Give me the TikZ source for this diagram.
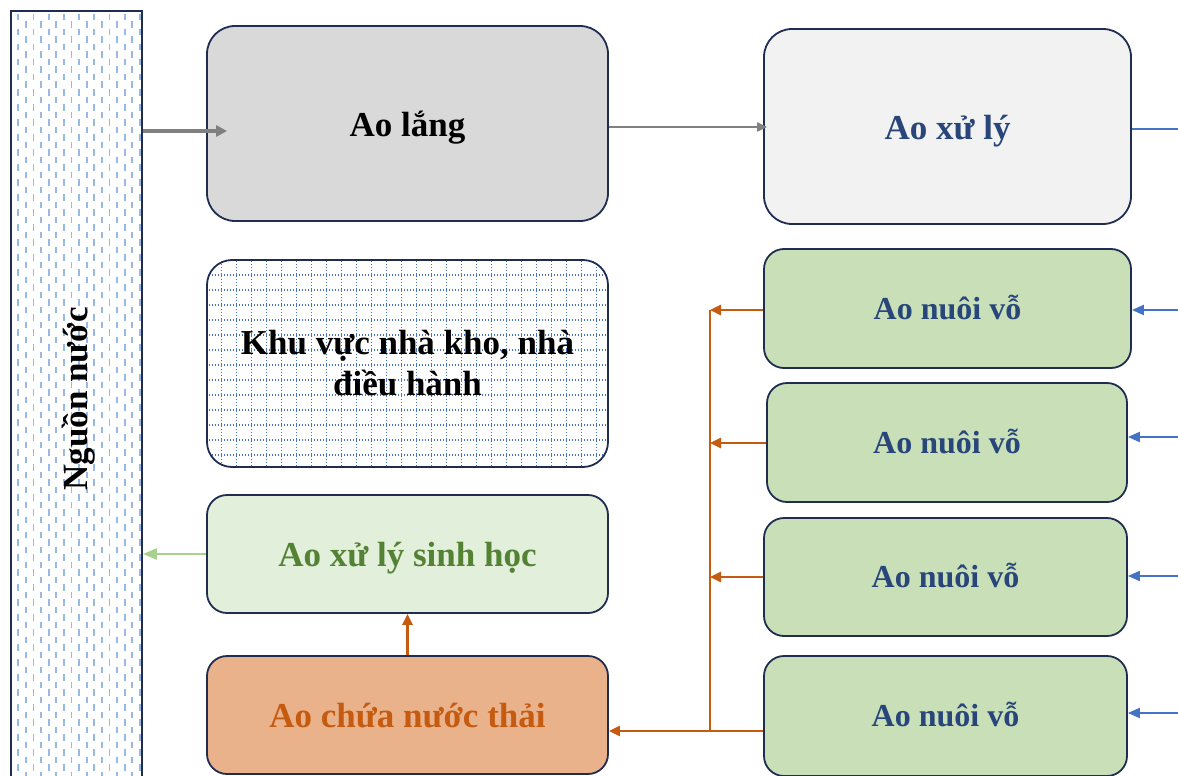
\documentclass[tikz,border=0pt]{standalone}
\usepackage{fontspec}
\setmainfont{Liberation Serif}
\usetikzlibrary{arrows.meta}
\definecolor{navy}{RGB}{32,45,80}
\definecolor{lgray}{RGB}{217,217,217}
\definecolor{vlgray}{RGB}{242,242,242}
\definecolor{dblue}{RGB}{40,70,122}
\definecolor{lgreen}{RGB}{226,239,218}
\definecolor{mgreen}{RGB}{201,223,184}
\definecolor{tgreen}{RGB}{84,130,53}
\definecolor{peach}{RGB}{233,178,138}
\definecolor{orng}{RGB}{197,90,17}
\definecolor{arblue}{RGB}{68,114,196}
\definecolor{argreen}{RGB}{169,209,142}
\definecolor{argray}{RGB}{128,128,128}
\definecolor{dashblue}{RGB}{150,186,228}
\begin{document}
\begin{tikzpicture}[x=1pt,y=-1pt,
  pond/.style={draw=navy, line width=1.8pt, rounded corners=28pt, align=center,
    font=\fontsize{35}{41}\selectfont\bfseries, inner sep=0pt},
  oneline/.style={text height=26pt, text depth=1pt},
  vo/.style={pond, fill=mgreen, rounded corners=20pt, text=dblue,
    font=\fontsize{32}{38}\selectfont\bfseries, text height=22pt, text depth=1pt},
  outflow/.style={draw=orng, line width=2.5pt, -{Triangle[length=11pt,width=10pt]}},
  inflow/.style={draw=arblue, line width=2.2pt, -{Triangle[length=12pt,width=10pt]}},
]
\useasboundingbox (0,0) rectangle (1178,776);
% source column dashes
\begin{scope}
\clip (11,11) rectangle (142,790);
\foreach \i in {0,...,16}{
  \pgfmathsetmacro\xx{18.3+\i*7.6}
  \pgfmathsetmacro\yo{mod(\i,2)*7.5}
  \foreach \j in {0,...,52}{
    \draw[dashblue, line width=1.7pt] (\xx,{14+\yo+\j*15}) -- ++(0,6.5);
  }
}
\end{scope}
\node[draw=navy, line width=1.8pt, minimum width=131pt, minimum height=779pt, inner sep=0pt] (src) at (76.5,400.5) {};
\node[rotate=90, font=\fontsize{35}{42}\selectfont\bfseries] (srclabel) at (79,399) {Nguồn nước};

% grid area
\begin{scope}
\clip[rounded corners=25pt] (207,260) rectangle (608,467);
\foreach \k in {0,...,26}{
  \draw[arblue, line width=1.3pt, dash pattern=on 1.4pt off 1.6pt] ({221.7+\k*15},255) -- ++(0,220);
}
\foreach \k in {0,...,13}{
  \draw[arblue, line width=1.3pt, dash pattern=on 1.4pt off 1.6pt] (200,{275+\k*15}) -- ++(420,0);
}
\end{scope}

\node[pond, oneline, fill=lgray, minimum width=401pt, minimum height=195pt] (lang) at (407.5,123.5) {Ao lắng};
\node[pond, oneline, fill=vlgray, text=dblue, minimum width=367pt, minimum height=195pt] (xuly) at (947.5,126.5) {Ao xử lý};
\node[pond, rounded corners=25pt, minimum width=401pt, minimum height=207pt] (kho) at (407.5,363.5) {Khu vực nhà kho, nhà\\điều hành};
\node[pond, oneline, fill=lgreen, text=tgreen, rounded corners=20pt, minimum width=401pt, minimum height=118pt] (sinh) at (407.5,554) {Ao xử lý sinh học};
\node[pond, oneline, fill=peach, text=orng, rounded corners=20pt, minimum width=401pt, minimum height=118pt] (chua) at (407.5,715) {Ao chứa nước thải};

\node[vo, minimum width=367pt, minimum height=119pt] (v1) at (947.5,308.5) {Ao nuôi vỗ};
\node[vo, minimum width=360pt, minimum height=119pt] (v2) at (947,442.5) {Ao nuôi vỗ};
\node[vo, minimum width=363pt, minimum height=118pt] (v3) at (945.5,577) {Ao nuôi vỗ};
\node[vo, minimum width=363pt, minimum height=120pt] (v4) at (945.5,716) {Ao nuôi vỗ};

% top flow
\draw[argray, line width=4pt, -{Triangle[length=11pt,width=11pt]}] (src.east |- 0,131) -- ([xshift=21pt]lang.west |- 0,131);
\draw[argray, line width=2pt, -{Triangle[length=10pt,width=9pt]}] (lang.east |- 0,127) -- ([xshift=4pt]xuly.west |- 0,127);
\coordinate (xend) at (1178,129);
\draw[arblue, line width=2.2pt] (xuly.east |- xend) -- (xend);

% inflows from right
\coordinate (i1) at (1178,310);
\coordinate (i2) at (1178,437);
\coordinate (i3) at (1178,576);
\coordinate (i4) at (1178,713);
\draw[inflow] (i1) -- (v1.east |- i1);
\draw[inflow] (i2) -- (v2.east |- i2);
\draw[inflow] (i3) -- (v3.east |- i3);
\draw[inflow] (i4) -- (v4.east |- i4);

% outflows
\coordinate (c1) at (710,310);
\coordinate (c2) at (710,443);
\coordinate (c3) at (710,577);
\coordinate (c4) at (710,731);
\draw[outflow] (v1.west |- c1) -- (c1);
\draw[outflow] (v2.west |- c2) -- (c2);
\draw[outflow] (v3.west |- c3) -- (c3);
\draw[draw=orng, line width=2.5pt] (c1) -- (c4);
\draw[outflow] (v4.west |- c4) -- (chua.east |- c4);
\draw[outflow] (chua.north) -- (sinh.south);
\draw[draw=argreen, line width=2.5pt, -{Triangle[length=14pt,width=11pt]}] (sinh.west) -- (src.east |- sinh.west);
\end{tikzpicture}
\end{document}
